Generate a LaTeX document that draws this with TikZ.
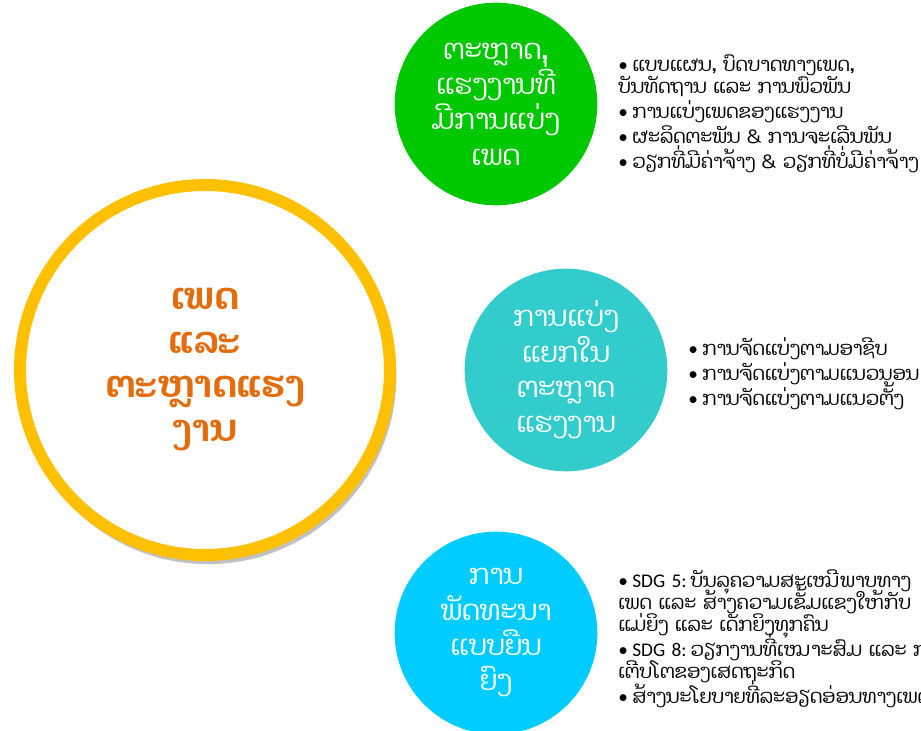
\documentclass[tikz,border=0pt]{standalone}
\usepackage{fontspec}
\setmainfont{Carlito}
\newfontfamily\laofont[Script=Lao]{Dhyana}
\newfontfamily\latfont{Carlito}
\usetikzlibrary{shadows, backgrounds}
\definecolor{hubring}{RGB}{255,192,0}
\definecolor{hubtext}{RGB}{228,108,10}
\definecolor{gendergreen}{RGB}{0,200,0}
\definecolor{segregteal}{RGB}{51,204,204}
\definecolor{sdgcyan}{RGB}{0,204,255}
\newcommand{\lat}[1]{{\latfont #1}}
\newcommand{\tightlines}{\lineskiplimit=-100pt\relax}
\newcommand{\itm}{\par\hangindent=10.5pt\hangafter=1\noindent\makebox[10.5pt][l]{\latfont\char"2022}}

\begin{document}
\begin{tikzpicture}[x=0.75pt, y=-0.75pt,
    hub/.style ={circle, draw=hubring, line width=9pt, fill=white, minimum size=277.5pt, inner sep=0pt,
                 align=center, text=hubtext, font=\laofont\bfseries\fontsize{28}{33}\selectfont\tightlines,
                 drop shadow={shadow xshift=2pt, shadow yshift=-4pt, shadow scale=1.02, fill=black!80, opacity=0.3}},
    sat/.style ={circle, minimum size=152pt, inner sep=0pt, align=center, text=white,
                 font=\laofont\fontsize{21}{26.5}\selectfont\tightlines},
    lst/.style ={anchor=north west, inner sep=0pt, text width=300pt, align=left,
                 font=\laofont\fontsize{14.5}{16.5}\selectfont\tightlines\setlength{\parskip}{2.3pt}},
    link/.style={line width=6pt, hubring, shorten >=4pt}]
    \useasboundingbox[fill=white] (0,0) rectangle (921,731);
    % hub
    \node[hub] (hub) at (205,370) {ເພດ\\ແລະ\\ຕະຫຼາດແຮງ\\ງານ};
    % satellites
    \node[sat, fill=gendergreen] (gender)  at (496,104) {ຕະຫຼາດ,\\ແຮງງານທີ່\\ມີການແບ່ງ\\ເພດ};
    \node[sat, fill=segregteal]  (segreg)  at (566,370) {ການແບ່ງ\\ແຍກໃນ\\ຕະຫຼາດ\\ແຮງງານ};
    \node[sat, fill=sdgcyan]     (sustain) at (496,633) {ການ\\ພັດທະນາ\\ແບບຍືນ\\ຍົງ};
    % bullet lists
    \node[lst] (genderlist) at (618,46) {%
      \itm ແບບແຜນ, ບົດບາດທາງເພດ,\\ບັນທັດຖານ ແລະ ການພົວພັນ
      \itm ການແບ່ງເພດຂອງແຮງງານ
      \itm ຜະລິດຕະພັນ \& ການຈະເລີນພັນ
      \itm ວຽກທີ່ມີຄ່າຈ້າງ \& ວຽກທີ່ບໍ່ມີຄ່າຈ້າງ};
    \node[lst] (segreglist) at (688,330) {%
      \itm ການຈັດແບ່ງຕາມອາຊີບ
      \itm ການຈັດແບ່ງຕາມແນວນອນ
      \itm ການຈັດແບ່ງຕາມແນວຕັ້ງ};
    \node[lst] (sustainlist) at (618,562) {%
      \itm \lat{SDG 5:}\hspace{3pt}ບັນລຸຄວາມສະເໝີພາບທາງ\\ເພດ ແລະ ສ້າງຄວາມເຂັ້ມແຂງໃຫ້ກັບ\\ແມ່ຍິງ ແລະ ເດັກຍິງທຸກຄົນ
      \itm \lat{SDG 8:}\hspace{3pt}ວຽກງານທີ່ເໝາະສົມ ແລະ ການ\\ເຕີບໂຕຂອງເສດຖະກິດ
      \itm ສ້າງນະໂຍບາຍທີ່ລະອຽດອ່ອນທາງເພດ};
    % links
    \begin{scope}[on background layer]
      \draw[link] (hub) -- (gender);
      \draw[link] (hub) -- (segreg);
      \draw[link] (hub) -- (sustain);
    \end{scope}
  \end{tikzpicture}
\end{document}
